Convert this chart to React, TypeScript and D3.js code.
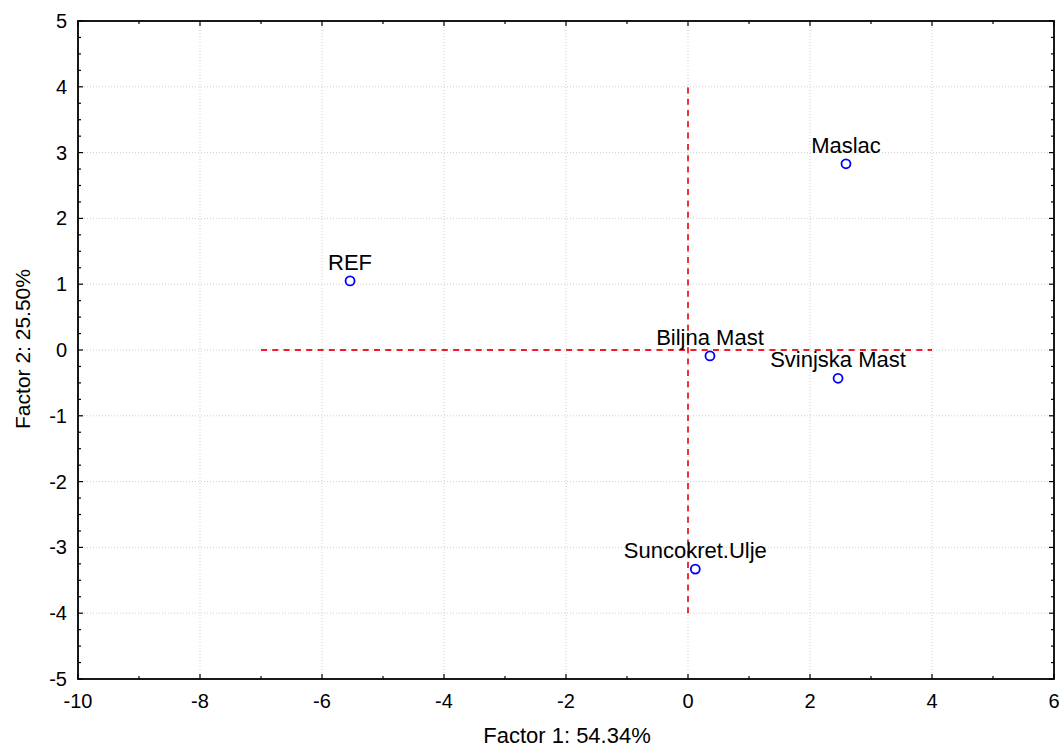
import React from "react";
import * as d3 from "d3";

const labels = ["Maslac", "REF", "Biljna Mast", "Svinjska Mast", "Suncokret.Ulje"];
const factor1 = [2.59, -5.54, 0.36, 2.46, 0.12];
const factor2 = [2.83, 1.05, -0.09, -0.43, -3.33];
const xTicks = [-10, -8, -6, -4, -2, 0, 2, 4, 6];
const yTicks = [-5, -4, -3, -2, -1, 0, 1, 2, 3, 4, 5];
const hLine = [-7, 4];
const vLine = [-4, 4];

const W = 1063, H = 747;
const L = 78, R = 1054, T = 21, B = 679;

export default function App() {
  const x = d3.scaleLinear().domain([-10, 6]).range([L, R]);
  const y = d3.scaleLinear().domain([-5, 5]).range([B, T]);
  const xMinor = d3.range(-10, 6.01, 1);
  const yMinor = d3.range(-5, 5.01, 0.25);
  const font = "'Liberation Sans', Arial, sans-serif";
  return (
    <svg width={W} height={H} style={{ position: "absolute", left: 0, top: 0, background: "#fff" }} fontFamily={font}>
      {xTicks.slice(1, -1).map((t) => (
        <line key={"gx" + t} x1={x(t)} x2={x(t)} y1={T} y2={B} stroke="#cfcfcf" strokeDasharray="1,2" />
      ))}
      {yTicks.slice(1, -1).map((t) => (
        <line key={"gy" + t} x1={L} x2={R} y1={y(t)} y2={y(t)} stroke="#cfcfcf" strokeDasharray="1,2" />
      ))}
      <line x1={x(hLine[0])} x2={x(hLine[1])} y1={y(0)} y2={y(0)} stroke="#ee1c24" strokeWidth={1.8} strokeDasharray="6,5.3" />
      <line x1={x(0)} x2={x(0)} y1={y(vLine[0])} y2={y(vLine[1])} stroke="#ee1c24" strokeWidth={1.8} strokeDasharray="6,5.3" />
      {xMinor.map((t) => {
        const major = xTicks.includes(t);
        const len = major ? 5 : 3;
        return (
          <g key={"tx" + t}>
            <line x1={x(t)} x2={x(t)} y1={B} y2={B - len} stroke="#000" strokeWidth={1.2} />
            <line x1={x(t)} x2={x(t)} y1={T} y2={T + len} stroke="#000" strokeWidth={1.2} />
          </g>
        );
      })}
      {yMinor.map((t) => {
        const major = Number.isInteger(t);
        const len = major ? 5 : 3;
        return (
          <g key={"ty" + t}>
            <line x1={L} x2={L + len} y1={y(t)} y2={y(t)} stroke="#000" strokeWidth={1.2} />
            <line x1={R} x2={R - len} y1={y(t)} y2={y(t)} stroke="#000" strokeWidth={1.2} />
          </g>
        );
      })}
      <rect x={L} y={T} width={R - L} height={B - T} fill="none" stroke="#000" strokeWidth={1.8} />
      {xTicks.map((t) => (
        <text key={"lx" + t} x={x(t)} y={B + 29} textAnchor="middle" fontSize={20} fill="#000">
          {t}
        </text>
      ))}
      {yTicks.map((t) => (
        <text key={"ly" + t} x={L - 11} y={y(t) + 7} textAnchor="end" fontSize={20} fill="#000">
          {t}
        </text>
      ))}
      <text x={567} y={743} textAnchor="middle" fontSize={22} fill="#000">
        Factor 1: 54.34%
      </text>
      <text transform={`translate(30,${(T + B) / 2 - 1}) rotate(-90)`} textAnchor="middle" fontSize={21} fill="#000">
        Factor 2: 25.50%
      </text>
      {labels.map((lab, i) => (
        <g key={lab}>
          <circle cx={x(factor1[i])} cy={y(factor2[i])} r={4.5} fill="none" stroke="#0000ff" strokeWidth={1.8} />
          <text x={x(factor1[i])} y={y(factor2[i]) - 11} textAnchor="middle" fontSize={22} fill="#000">
            {lab}
          </text>
        </g>
      ))}
    </svg>
  );
}
